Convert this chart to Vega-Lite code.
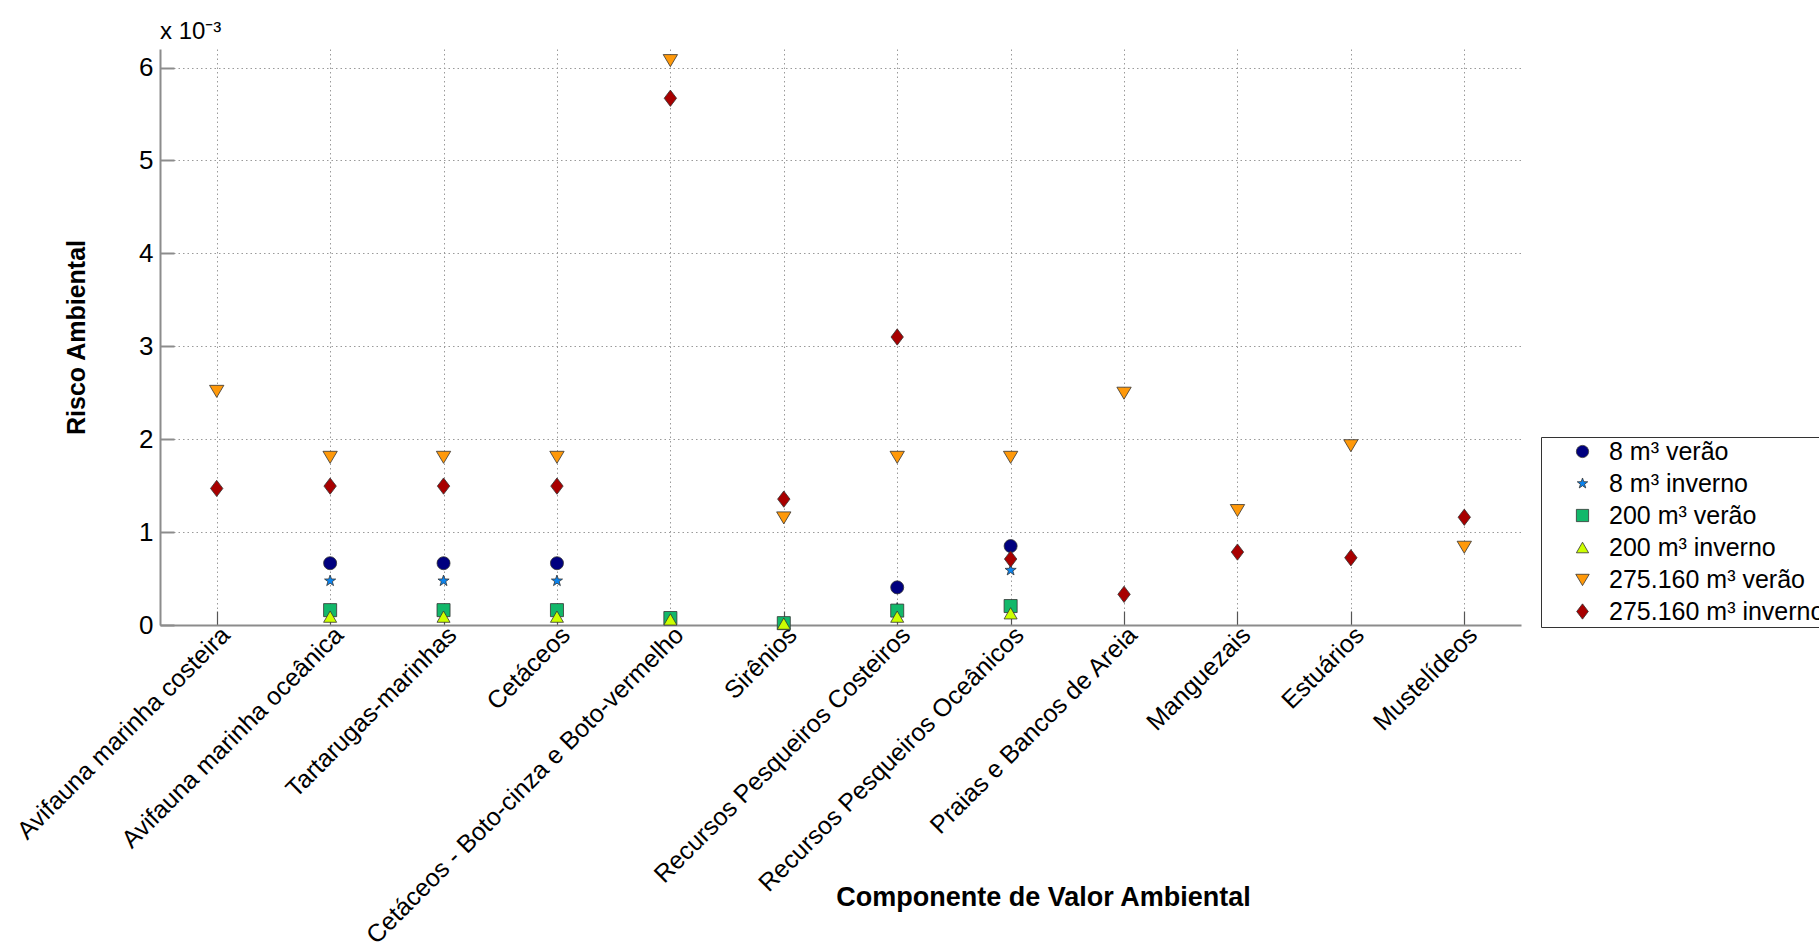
{
  "$schema": "https://vega.github.io/schema/vega-lite/v6.json",
  "width": 1361,
  "height": 576,
  "autosize": {"type": "none"},
  "padding": {"left": 160, "top": 49, "right": 298, "bottom": 317},
  "background": "white",
  "title": {"text": "x 10⁻³", "anchor": "start", "frame": "group", "font": "Liberation Sans", "fontSize": 24, "fontWeight": "normal", "color": "black", "baseline": "alphabetic", "offset": 10, "dy": 24},
  "config": {
    "view": {"stroke": null},
    "font": "Liberation Sans"
  },
  "data": {"values": [
    {"c": "Avifauna marinha oceânica", "s": "8 m³ verão", "v": 0.665},
    {"c": "Tartarugas-marinhas", "s": "8 m³ verão", "v": 0.665},
    {"c": "Cetáceos", "s": "8 m³ verão", "v": 0.665},
    {"c": "Recursos Pesqueiros Costeiros", "s": "8 m³ verão", "v": 0.405},
    {"c": "Recursos Pesqueiros Oceânicos", "s": "8 m³ verão", "v": 0.85},
    {"c": "Avifauna marinha oceânica", "s": "8 m³ inverno", "v": 0.475},
    {"c": "Tartarugas-marinhas", "s": "8 m³ inverno", "v": 0.475},
    {"c": "Cetáceos", "s": "8 m³ inverno", "v": 0.475},
    {"c": "Recursos Pesqueiros Costeiros", "s": "8 m³ inverno", "v": 0.18},
    {"c": "Recursos Pesqueiros Oceânicos", "s": "8 m³ inverno", "v": 0.59},
    {"c": "Avifauna marinha oceânica", "s": "200 m³ verão", "v": 0.16},
    {"c": "Tartarugas-marinhas", "s": "200 m³ verão", "v": 0.16},
    {"c": "Cetáceos", "s": "200 m³ verão", "v": 0.16},
    {"c": "Cetáceos - Boto-cinza e Boto-vermelho", "s": "200 m³ verão", "v": 0.075},
    {"c": "Sirênios", "s": "200 m³ verão", "v": 0.02},
    {"c": "Recursos Pesqueiros Costeiros", "s": "200 m³ verão", "v": 0.155},
    {"c": "Recursos Pesqueiros Oceânicos", "s": "200 m³ verão", "v": 0.204},
    {"c": "Avifauna marinha oceânica", "s": "200 m³ inverno", "v": 0.09},
    {"c": "Tartarugas-marinhas", "s": "200 m³ inverno", "v": 0.09},
    {"c": "Cetáceos", "s": "200 m³ inverno", "v": 0.09},
    {"c": "Cetáceos - Boto-cinza e Boto-vermelho", "s": "200 m³ inverno", "v": 0.06},
    {"c": "Sirênios", "s": "200 m³ inverno", "v": 0.015},
    {"c": "Recursos Pesqueiros Costeiros", "s": "200 m³ inverno", "v": 0.09},
    {"c": "Recursos Pesqueiros Oceânicos", "s": "200 m³ inverno", "v": 0.126},
    {"c": "Avifauna marinha costeira", "s": "275.160 m³ verão", "v": 2.52},
    {"c": "Avifauna marinha oceânica", "s": "275.160 m³ verão", "v": 1.81},
    {"c": "Tartarugas-marinhas", "s": "275.160 m³ verão", "v": 1.81},
    {"c": "Cetáceos", "s": "275.160 m³ verão", "v": 1.81},
    {"c": "Cetáceos - Boto-cinza e Boto-vermelho", "s": "275.160 m³ verão", "v": 6.08},
    {"c": "Sirênios", "s": "275.160 m³ verão", "v": 1.158},
    {"c": "Recursos Pesqueiros Costeiros", "s": "275.160 m³ verão", "v": 1.81},
    {"c": "Recursos Pesqueiros Oceânicos", "s": "275.160 m³ verão", "v": 1.81},
    {"c": "Praias e Bancos de Areia", "s": "275.160 m³ verão", "v": 2.5},
    {"c": "Manguezais", "s": "275.160 m³ verão", "v": 1.237},
    {"c": "Estuários", "s": "275.160 m³ verão", "v": 1.935},
    {"c": "Mustelídeos", "s": "275.160 m³ verão", "v": 0.842},
    {"c": "Avifauna marinha costeira", "s": "275.160 m³ inverno", "v": 1.47},
    {"c": "Avifauna marinha oceânica", "s": "275.160 m³ inverno", "v": 1.495},
    {"c": "Tartarugas-marinhas", "s": "275.160 m³ inverno", "v": 1.495},
    {"c": "Cetáceos", "s": "275.160 m³ inverno", "v": 1.495},
    {"c": "Cetáceos - Boto-cinza e Boto-vermelho", "s": "275.160 m³ inverno", "v": 5.67},
    {"c": "Sirênios", "s": "275.160 m³ inverno", "v": 1.355},
    {"c": "Recursos Pesqueiros Costeiros", "s": "275.160 m³ inverno", "v": 3.1},
    {"c": "Recursos Pesqueiros Oceânicos", "s": "275.160 m³ inverno", "v": 0.71},
    {"c": "Praias e Bancos de Areia", "s": "275.160 m³ inverno", "v": 0.33},
    {"c": "Manguezais", "s": "275.160 m³ inverno", "v": 0.785},
    {"c": "Estuários", "s": "275.160 m³ inverno", "v": 0.724},
    {"c": "Mustelídeos", "s": "275.160 m³ inverno", "v": 1.16}
  ]},
  "mark": {"type": "point", "filled": true, "size": 170, "stroke": "#333333", "strokeWidth": 0.8, "opacity": 1, "strokeOpacity": 1, "fillOpacity": 1},
  "encoding": {
    "x": {
      "field": "c", "type": "nominal", "sort": null,
      "scale": {"type": "point", "padding": 0.5, "domain": ["Avifauna marinha costeira", "Avifauna marinha oceânica", "Tartarugas-marinhas", "Cetáceos", "Cetáceos - Boto-cinza e Boto-vermelho", "Sirênios", "Recursos Pesqueiros Costeiros", "Recursos Pesqueiros Oceânicos", "Praias e Bancos de Areia", "Manguezais", "Estuários", "Mustelídeos"]},
      "axis": {
        "title": "Componente de Valor Ambiental",
        "titleFont": "Liberation Sans", "titleFontSize": 27, "titleFontWeight": "bold", "titleColor": "black",
        "titleX": 883, "titleY": 280, "titleBaseline": "alphabetic", "titleAlign": "center", "titleAnchor": null,
        "labelAngle": -45, "labelAlign": "right", "labelBaseline": "top", "labelPadding": 11,
        "labelFont": "Liberation Sans", "labelFontSize": 25, "labelColor": "black", "labelLimit": 0, "labelOverlap": false,
        "grid": true, "gridColor": "#9a9a9a", "gridDash": [1.5, 3], "gridWidth": 1,
        "domainColor": "#8c8c8c", "domainWidth": 2,
        "ticks": true, "tickSize": -14, "tickColor": "#555555", "tickWidth": 1.2
      }
    },
    "y": {
      "field": "v", "type": "quantitative",
      "scale": {"domain": [0, 6.2], "nice": false, "zero": true},
      "axis": {
        "title": "Risco Ambiental",
        "titleFont": "Liberation Sans", "titleFontSize": 25, "titleFontWeight": "bold", "titleColor": "black",
        "titleX": -84, "titleY": 288, "titleAngle": -90, "titleBaseline": "middle", "titleAlign": "center", "titleAnchor": null,
        "values": [0, 1, 2, 3, 4, 5, 6], "format": "d",
        "labelFont": "Liberation Sans", "labelFontSize": 26, "labelColor": "black", "labelPadding": 21,
        "grid": true, "gridColor": "#9a9a9a", "gridDash": [1.5, 3], "gridWidth": 1,
        "domainColor": "#8c8c8c", "domainWidth": 2,
        "ticks": true, "tickSize": -14, "tickColor": "#8c8c8c", "tickWidth": 2
      }
    },
    "color": {
      "field": "s", "type": "nominal",
      "scale": {"domain": ["8 m³ verão", "8 m³ inverno", "200 m³ verão", "200 m³ inverno", "275.160 m³ verão", "275.160 m³ inverno"],
                "range": ["#00007f", "#0a84f0", "#12b86a", "#ccff00", "#ff990a", "#a80000"]},
      "legend": {
        "title": null, "orient": "none", "legendX": 1381, "legendY": 388,
        "strokeColor": "#333333", "fillColor": "white", "padding": 2,
        "labelFont": "Liberation Sans", "labelFontSize": 25, "labelColor": "black", "labelLimit": 0,
        "symbolOffset": 27, "labelOffset": 14, "rowPadding": 6, "symbolSize": 150,
        "symbolStrokeColor": "#333333", "symbolStrokeWidth": 0.8
      }
    },
    "shape": {
      "field": "s", "type": "nominal",
      "scale": {"domain": ["8 m³ verão", "8 m³ inverno", "200 m³ verão", "200 m³ inverno", "275.160 m³ verão", "275.160 m³ inverno"],
                "range": ["circle", "M0,-0.9 L0.212,-0.292 L0.856,-0.278 L0.342,0.112 L0.529,0.728 L0,0.36 L-0.529,0.728 L-0.342,0.112 L-0.856,-0.278 L-0.212,-0.292 Z", "square", "triangle-up", "M-1.1,-0.85 L1.1,-0.85 L0,1 Z", "M0,-1.25 L0.95,0 L0,1.25 L-0.95,0 Z"]}
    }
  }
}
